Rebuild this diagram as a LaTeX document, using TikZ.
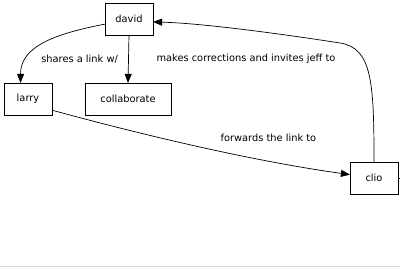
\documentclass[tikz,border=0pt]{standalone}
\usepackage{fontspec}
\setmainfont{DejaVu Sans}
\usepackage{tikz}
\usetikzlibrary{arrows.meta,positioning,calc}
\definecolor{framegray}{HTML}{D9D9D9}
\newcommand{\LinkGraphFont}{\fontsize{7pt}{8pt}\selectfont}
\tikzset{
  person/.style={
    draw=black, rectangle, line width=0.6pt,
    minimum width=1.2cm, minimum height=0.8cm,
    inner sep=0, outer sep=0, font=\LinkGraphFont
  },
  taskbox/.style={person, minimum width=2.15cm},
  link/.style={
    -{Triangle[length=6.5pt,width=5pt]}, draw=black, line width=0.5pt
  },
  linklabel/.style={font=\LinkGraphFont, inner sep=1pt}
}

\begin{document}
\begin{tikzpicture}
    \useasboundingbox (0,0) rectangle (10,-6.7);
    \draw[framegray, line width=0.6pt] (0,-6.65) -- (10,-6.65);
    % people and task
    \node[person] (david) at (3.225,-0.475) {david};
    \node[person] (larry) at (0.7,-2.475) {larry};
    \node[taskbox] (collaborate) at (3.2,-2.475) {collaborate};
    \node[person] (clio) at (9.35,-4.45) {clio};
    \coordinate (bend) at (8.5,-1.075);
    \coordinate (offpage) at (10,-4.45);
    % links
    \draw[link] (david.192) .. controls +(-1.3,-0.25) and +(0,0.9) .. (larry.115);
    \draw[link] (david.south) -- (collaborate.north);
    \draw[link] (larry.-25) .. controls +(2.2,-0.6) and +(-2.5,0.35) .. (clio.172);
    \draw[link] (clio.north) .. controls +(0,2.0) and +(0.8,-0.125) .. (bend)
        .. controls +(-1.5,0.234) and +(1.2,-0.03) .. (david.-7);
    \draw[line width=0.5pt] (clio.east) -- (offpage);
    % labels
    \node[linklabel] (shareslabel) at (1.99,-1.475) {shares a link w/};
    \node[linklabel] (makeslabel) at (6.15,-1.475) {makes corrections and invites jeff to};
    \node[linklabel] (forwardslabel) at (6.71,-3.45) {forwards the link to};
\end{tikzpicture}
\end{document}
